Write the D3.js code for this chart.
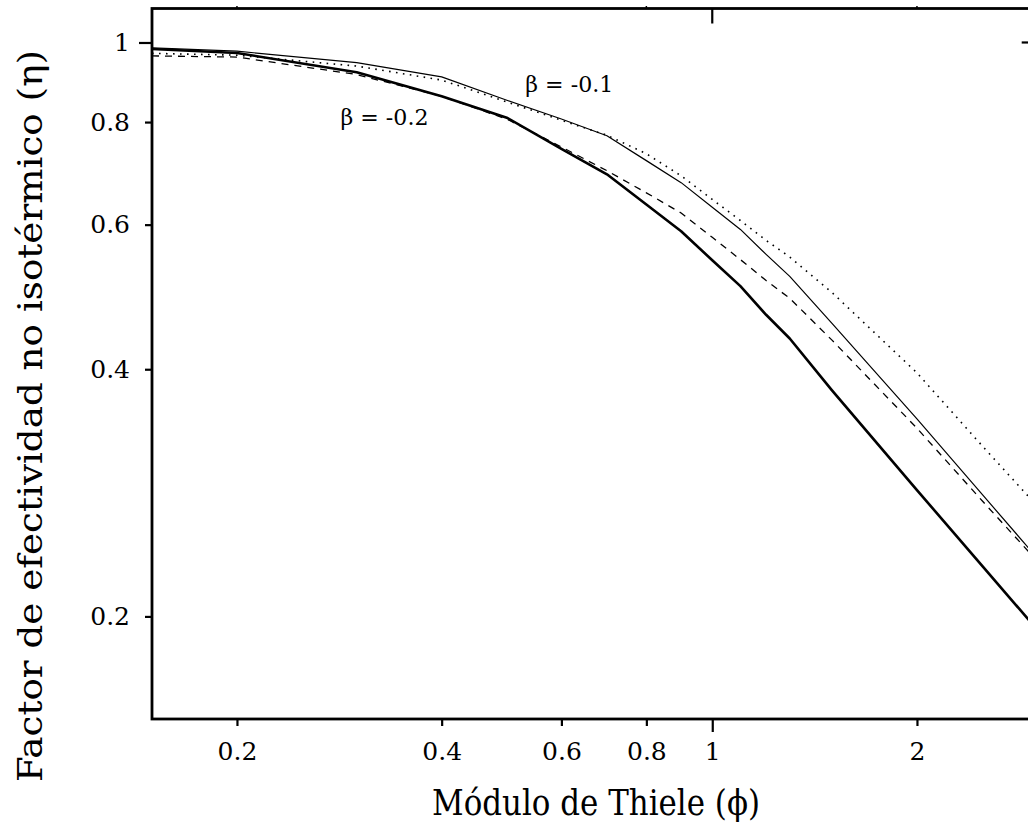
<!DOCTYPE html>
<html>
<head>
<meta charset="utf-8">
<script src="https://cdn.jsdelivr.net/npm/d3@7"></script>
<style>
  html, body { margin: 0; padding: 0; background: #fff; }
  svg { display: block; }
</style>
</head>
<body>
<svg id="chart" width="1028" height="825"></svg>
<script>
// ---- data ----
const phi = [0.15, 0.2, 0.3, 0.4, 0.5, 0.6, 0.7, 0.8, 0.9, 1.0, 1.1, 1.2, 1.3, 1.5, 2.0, 2.5, 3.0];
const etaThick  = [0.982, 0.971, 0.920, 0.860, 0.809, 0.742, 0.691, 0.635, 0.589, 0.543, 0.505, 0.466, 0.436, 0.377, 0.285, 0.230, 0.193];
const etaDashed = [0.963, 0.960, 0.914, 0.860, 0.806, 0.746, 0.698, 0.656, 0.620, 0.579, 0.544, 0.513, 0.488, 0.434, 0.339, 0.276, 0.234];
const etaThin   = [0.985, 0.976, 0.945, 0.908, 0.850, 0.807, 0.770, 0.718, 0.675, 0.630, 0.592, 0.552, 0.519, 0.455, 0.348, 0.281, 0.236];
const etaDotted = [0.970, 0.965, 0.936, 0.900, 0.846, 0.804, 0.771, 0.732, 0.688, 0.644, 0.607, 0.574, 0.548, 0.496, 0.396, 0.322, 0.273];
const xTicks = [0.2, 0.4, 0.6, 0.8, 1, 2];
const yTicks = [0.2, 0.4, 0.6, 0.8, 1];
const xTitle = "Módulo de Thiele (ϕ)";
const yTitle = "Factor de efectividad no isotérmico (η)";
const labels = [
  { text: "β = -0.1", phi: 0.531, eta: 0.870 },
  { text: "β = -0.2", phi: 0.284, eta: 0.7945 }
];

// ---- layout ----
const svg = d3.select("#chart");
const L = 152, R = 1036.7, T = 8.5, B = 719;
const x = d3.scaleLog().domain([0.15, 3]).range([L, R]);
const y = d3.scaleLog().domain([0.15, 1.1]).range([B, T]);
const serif = "'DejaVu Serif', serif";

svg.append("defs").append("clipPath").attr("id", "clip")
  .append("rect").attr("x", L).attr("y", T).attr("width", R - L).attr("height", B - T);

const line = d3.line().x(d => x(d[0])).y(d => y(d[1]));
const series = [
  { vals: etaThin,   w: 1.2, dash: null },
  { vals: etaDotted, w: 1.6, dash: "1.6,5.4" },
  { vals: etaDashed, w: 1.3, dash: "7,6" },
  { vals: etaThick,  w: 2.6, dash: null }
];
const g = svg.append("g").attr("clip-path", "url(#clip)");
series.forEach(s => {
  g.append("path")
    .datum(phi.map((p, i) => [p, s.vals[i]]))
    .attr("d", line)
    .attr("fill", "none")
    .attr("stroke", "#000")
    .attr("stroke-width", s.w)
    .attr("stroke-dasharray", s.dash)
    .attr("stroke-linejoin", "round");
});

// ---- axes ----
const fmt = d => String(d);
const xAxis = svg.append("g").attr("transform", `translate(0,${B})`)
  .call(d3.axisBottom(x).tickValues(xTicks).tickFormat(fmt).tickSize(7).tickPadding(16));
const yAxis = svg.append("g").attr("transform", `translate(${L},0)`)
  .call(d3.axisLeft(y).tickValues(yTicks).tickFormat(fmt).tickSize(7).tickPadding(15));
[xAxis, yAxis].forEach(a => {
  a.select(".domain").remove();
  a.selectAll(".tick line").attr("stroke", "#000").attr("stroke-width", 2.2);
  a.selectAll(".tick text").attr("font-family", serif).attr("font-size", 25).attr("fill", "#000");
});
xAxis.selectAll(".tick").filter(d => d === 1).select("line").attr("y2", 13);
yAxis.selectAll(".tick").filter(d => d === 1).select("line").attr("x2", -13);

// inner ticks on top and right
svg.append("line").attr("x1", x(1)).attr("x2", x(1)).attr("y1", T).attr("y2", T + 15)
  .attr("stroke", "#000").attr("stroke-width", 2.2);
svg.append("line").attr("x1", R).attr("x2", R - 15).attr("y1", y(1)).attr("y2", y(1))
  .attr("stroke", "#000").attr("stroke-width", 2.2);
[0.2, 0.8, 2].forEach(v => {
  svg.append("line").attr("x1", x(v)).attr("x2", x(v)).attr("y1", T).attr("y2", T - 2.5)
    .attr("stroke", "#000").attr("stroke-width", 1.5);
});

// frame
svg.append("rect").attr("x", L).attr("y", T).attr("width", R - L).attr("height", B - T)
  .attr("fill", "none").attr("stroke", "#000").attr("stroke-width", 2.8);

// titles
svg.append("text").attr("x", 596).attr("y", 815).attr("text-anchor", "middle")
  .attr("font-family", serif).attr("font-size", 35)
  .attr("textLength", 328).attr("lengthAdjust", "spacingAndGlyphs")
  .text(xTitle);
svg.append("text").attr("transform", "translate(42,416) rotate(-90)").attr("text-anchor", "middle")
  .attr("font-family", serif).attr("font-size", 34)
  .attr("textLength", 732).attr("lengthAdjust", "spacingAndGlyphs")
  .text(yTitle);

// curve labels
labels.forEach(l => {
  svg.append("text").attr("x", x(l.phi)).attr("y", y(l.eta))
    .attr("font-family", serif).attr("font-size", 22)
    .attr("textLength", 88).attr("lengthAdjust", "spacingAndGlyphs")
    .text(l.text);
});
</script>
</body>
</html>
